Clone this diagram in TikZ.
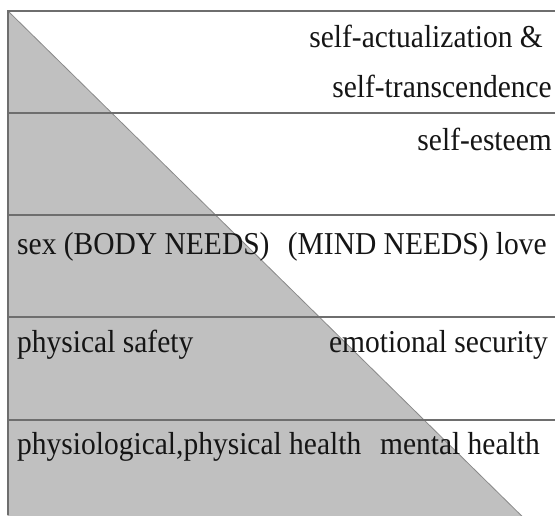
\documentclass[tikz,border=0pt]{standalone}
\usepackage{graphicx}
\usepackage{fontspec}
\setmainfont{Liberation Serif}
\definecolor{bodyfill}{HTML}{C0C0C0}
\definecolor{rulegray}{HTML}{6E6E6E}
\definecolor{edgegray}{HTML}{8A8A8A}
\definecolor{ink}{HTML}{151515}
% slightly taller glyphs than the font's natural proportions
\newcommand{\tallbox}[1]{\scalebox{1}[1.08]{#1}}
\begin{document}
\begin{tikzpicture}[x=1pt,y=-1pt,
  rule/.style={draw=rulegray, line width=1.1pt},
  lbl/.style={inner sep=0pt, text=ink, font=\fontsize{29.5}{35}\selectfont}]
\useasboundingbox (0,0) rectangle (555,515);

% shaded triangle: body needs widen towards the base
\begin{scope}
  \clip (0,0) rectangle (555,515);
  \filldraw[fill=bodyfill, draw=edgegray, line width=0.8pt]
    (8,11) -- (536,530) -- (8,530) -- cycle;
\end{scope}

% frame and level separators
\coordinate (tl) at (8,11);
\coordinate (tr) at (555,11);
\coordinate (bl) at (8,515);
\draw[rule] (bl) -- (tl) -- (tr);
\foreach \yy in {113,215,317,420}
  \draw[rule] (8,\yy) -- (555,\yy);

% level labels
\node[lbl, anchor=base east] (sa)  at (543,47)  {\tallbox{self-actualization \&}};
\node[lbl, anchor=base east] (st)  at (552,97)  {\tallbox{self-transcendence}};
\node[lbl, anchor=base east] (se)  at (552,150) {\tallbox{self-esteem}};
\node[lbl, anchor=base west] (sex) at (17,254)  {\tallbox{sex (BODY NEEDS)}};
\node[lbl, anchor=base east] (lov) at (547,254) {\tallbox{(MIND NEEDS) love}};
\node[lbl, anchor=base west] (ps)  at (17,352)  {\tallbox{physical safety}};
\node[lbl, anchor=base east] (es)  at (548,352) {\tallbox{emotional security}};
\node[lbl, anchor=base west] (ph)  at (17,454)  {\tallbox{physiological,physical health}};
\node[lbl, anchor=base east] (mh)  at (540,454) {\tallbox{mental health}};
\end{tikzpicture}
\end{document}
